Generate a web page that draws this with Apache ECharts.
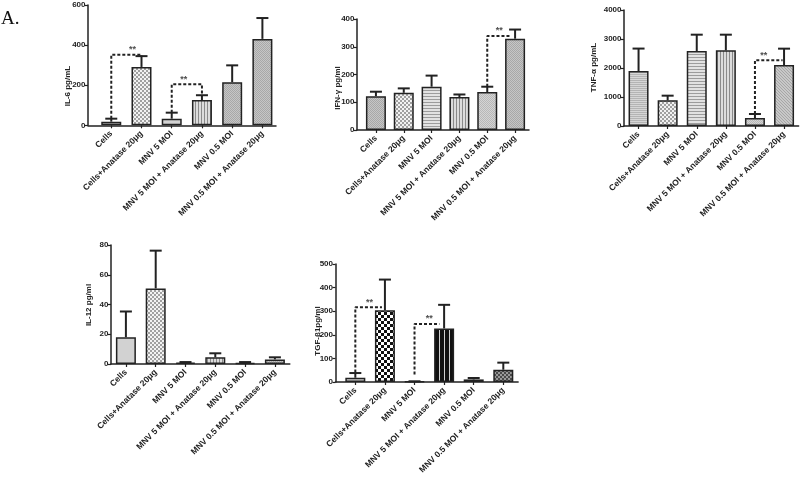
<!DOCTYPE html>
<html>
<head>
<meta charset="utf-8">
<script src="https://cdn.jsdelivr.net/npm/echarts@6/dist/echarts.min.js"></script>
<style>html,body{margin:0;padding:0;background:#fff}#c{width:800px;height:484px}</style>
</head>
<body>
<div id="c"></div>
<script>
// ---- data ----
const categories = ['Cells', 'Cells+Anatase 20μg', 'MNV 5 MOI', 'MNV 5 MOI + Anatase 20μg', 'MNV 0.5 MOI', 'MNV 0.5 MOI + Anatase 20μg'];

const il6Mean = [18, 291, 33, 126, 215, 431];
const il6Sem  = [15, 54, 30, 24, 84, 104];
const il6Ticks = [0, 200, 400, 600];

const ifnMean = [122, 134, 156, 119, 137, 329];
const ifnSem  = [16, 16, 40, 9, 19, 33];
const ifnTicks = [0, 100, 200, 300, 400];

const tnfMean = [1897, 885, 2586, 2609, 276, 2103];
const tnfSem  = [773, 161, 563, 540, 138, 564];
const tnfTicks = [0, 1000, 2000, 3000, 4000];

const il12Mean = [18, 50.8, 0.9, 4.5, 0.7, 3.1];
const il12Sem  = [17.3, 25.4, 0.4, 2.7, 0.6, 1.4];
const il12Ticks = [0, 20, 40, 60, 80];

const tgfMean = [18, 304, 2, 227, 11, 52];
const tgfSem  = [20, 130, 1, 100, 6, 30];
const tgfTicks = [0, 100, 200, 300, 400, 500];

// significance brackets: [fromIndex, fromValue, height, toIndex, toValue, starAt]
const il6Sig = [[0, 33, 352, 1, 345, 0.7], [2, 63, 205, 3, 150, 2.4]];
const ifnSig = [[4, 156, 339, 4.85, 339, 4.43]];
const tnfSig = [[4, 414, 2264, 4.95, 2264, 4.3]];
const il12Sig = [];
const tgfSig = [[0, 40, 317, 0.9, 317, 0.48], [2, 32, 246, 2.84, 246, 2.5]];

// ---- patterns ----
function pat(w, h, draw) {
  const c = document.createElement('canvas');
  c.width = w; c.height = h;
  const g = c.getContext('2d');
  draw(g, w, h);
  return { image: c, repeat: 'repeat' };
}
const P = {
  fine: pat(2, 2, g => { g.fillStyle = '#d4d4d4'; g.fillRect(0,0,2,2); g.fillStyle = '#b8b8b8'; g.fillRect(0,0,1,1); g.fillRect(1,1,1,1); }),
  fineDark: pat(2, 2, g => { g.fillStyle = '#c6c6c6'; g.fillRect(0,0,2,2); g.fillStyle = '#a8a8a8'; g.fillRect(0,0,1,1); g.fillRect(1,1,1,1); }),
  checker: pat(4, 4, g => { g.fillStyle = '#f2f2f2'; g.fillRect(0,0,4,4); g.fillStyle = '#a0a0a0'; g.fillRect(0,0,2,2); g.fillRect(2,2,2,2); }),
  hline: pat(1, 3, g => { g.fillStyle = '#e2e2e2'; g.fillRect(0,0,1,3); g.fillStyle = '#9c9c9c'; g.fillRect(0,0,1,1); }),
  hfine: pat(1, 2, g => { g.fillStyle = '#d6d6d6'; g.fillRect(0,0,1,2); g.fillStyle = '#b4b4b4'; g.fillRect(0,0,1,1); }),
  vline: pat(3, 1, g => { g.fillStyle = '#dcdcdc'; g.fillRect(0,0,3,1); g.fillStyle = '#8a8a8a'; g.fillRect(0,0,1,1); }),
  diag: pat(3, 3, g => { g.fillStyle = '#c8c8c8'; g.fillRect(0,0,3,3); g.fillStyle = '#a6a6a6'; g.fillRect(0,0,1,1); g.fillRect(1,1,1,1); g.fillRect(2,2,1,1); }),
  plain: '#d2d2d2',
  bigChecker: pat(6, 6, g => { g.fillStyle = '#ffffff'; g.fillRect(0,0,6,6); g.fillStyle = '#111111'; g.fillRect(0,0,3,3); g.fillRect(3,3,3,3); }),
  blackV: pat(5, 1, g => { g.fillStyle = '#111111'; g.fillRect(0,0,5,1); g.fillStyle = '#d0d0d0'; g.fillRect(4,0,1,1); }),
  darkChecker: pat(4, 4, g => { g.fillStyle = '#9a9a9a'; g.fillRect(0,0,4,4); g.fillStyle = '#4a4a4a'; g.fillRect(0,0,2,2); g.fillRect(2,2,2,2); }),
  midGray: '#8c8c8c'
};

const panels = [
  { name: 'IL-6 pg/mL', mean: il6Mean, sem: il6Sem, ticks: il6Ticks, sig: il6Sig,
    grid: { left: 88, top: 5, width: 188, height: 120.3 }, xmin: -0.77, xmax: 5.45, title: [68, 86],
    fills: [P.plain, P.checker, P.plain, P.vline, P.fineDark, P.fineDark] },
  { name: 'IFN-γ pg/ml', mean: ifnMean, sem: ifnSem, ticks: ifnTicks, sig: ifnSig,
    grid: { left: 357, top: 19, width: 172, height: 111 }, xmin: -0.68, xmax: 5.5, title: [338, 88],
    fills: [P.fineDark, P.checker, P.hline, P.vline, P.fine, P.fineDark] },
  { name: 'TNF-α pg/mL', mean: tnfMean, sem: tnfSem, ticks: tnfTicks, sig: tnfSig,
    grid: { left: 624, top: 10, width: 174.6, height: 116 }, xmin: -0.5, xmax: 5.5, title: [594, 67.5],
    fills: [P.hfine, P.checker, P.hline, P.vline, P.fine, P.diag] },
  { name: 'IL-12 pg/ml', mean: il12Mean, sem: il12Sem, ticks: il12Ticks, sig: il12Sig,
    grid: { left: 111, top: 245, width: 178.8, height: 119 }, xmin: -0.5, xmax: 5.5, title: [88.5, 305],
    fills: [P.plain, P.checker, P.plain, P.vline, P.fine, P.fineDark] },
  { name: 'TGF-β1pg/ml', mean: tgfMean, sem: tgfSem, ticks: tgfTicks, sig: tgfSig,
    grid: { left: 335.5, top: 264, width: 182.6, height: 118 }, xmin: -0.67, xmax: 5.5, title: [317.5, 331],
    fills: [P.plain, P.bigChecker, P.plain, P.blackV, P.midGray, P.darkChecker] }
];

const INK = '#222';
const FONT = 'Liberation Sans, Arial, sans-serif';
const grids = [], xAxes = [], yAxes = [], series = [], graphics = [];
const idx = [0, 1, 2, 3, 4, 5];

panels.forEach((p, k) => {
  grids.push(Object.assign({ containLabel: false }, p.grid));
  xAxes.push({
    type: 'value', gridIndex: k, min: p.xmin, max: p.xmax,
    axisLine: { show: true, onZero: false, lineStyle: { color: INK, width: 1.5 } },
    axisTick: { show: true, length: 3, lineStyle: { color: INK, width: 1.2 }, customValues: idx },
    axisLabel: { customValues: idx, rotate: 45, margin: 7, color: INK, fontSize: 8.5, fontWeight: 'bold',
      fontFamily: FONT, formatter: v => categories[Math.round(v)] || '' },
    splitLine: { show: false }
  });
  const ymax = p.ticks[p.ticks.length - 1];
  yAxes.push({
    type: 'value', gridIndex: k, min: 0, max: ymax, interval: p.ticks[1] - p.ticks[0],
    axisLine: { show: true, onZero: false, lineStyle: { color: INK, width: 1.5 } },
    axisTick: { show: true, length: 3, lineStyle: { color: INK, width: 1.2 } },
    axisLabel: { margin: 2.5, color: INK, fontSize: 8, fontWeight: 'bold', fontFamily: FONT,
      formatter: v => String(v) },
    splitLine: { show: false }
  });
  graphics.push({
    type: 'text', x: p.title[0], y: p.title[1], rotation: Math.PI / 2, silent: true,
    style: { text: p.name, fill: INK, font: 'bold 8px ' + FONT, align: 'center', verticalAlign: 'middle' }
  });
  series.push({
    type: 'bar', xAxisIndex: k, yAxisIndex: k, barWidth: 20,
    data: p.mean.map((v, i) => ({ value: [i, v], itemStyle: { color: p.fills[i] } })),
    itemStyle: { borderColor: INK, borderWidth: 1.5 },
    z: 2
  });
  series.push({
    type: 'custom', xAxisIndex: k, yAxisIndex: k, z: 3,
    data: p.mean.map((v, i) => [i, v, p.sem[i]]),
    renderItem: (params, api) => {
      const x = api.value(0), m = api.value(1), e = api.value(2);
      const a = api.coord([x, m]), b = api.coord([x, m + e]);
      const st = { stroke: INK, lineWidth: 2 };
      return { type: 'group', children: [
        { type: 'line', shape: { x1: a[0], y1: a[1], x2: b[0], y2: b[1] }, style: st },
        { type: 'line', shape: { x1: b[0] - 6, y1: b[1], x2: b[0] + 6, y2: b[1] }, style: st }
      ] };
    }
  });
  p.sig.forEach(s => {
    const [f, fy, h, t, ty, sx] = s;
    series.push({
      type: 'line', xAxisIndex: k, yAxisIndex: k, z: 4, symbol: 'none', silent: true,
      data: [[f, fy], [f, h], [t, h], [t, ty]],
      lineStyle: { color: INK, width: 2, type: [3, 2] }
    });
    series.push({
      type: 'scatter', xAxisIndex: k, yAxisIndex: k, z: 5, symbolSize: 1, silent: true,
      itemStyle: { color: 'rgba(0,0,0,0)' },
      data: [[sx, h]],
      label: { show: true, position: 'top', distance: 0, formatter: '**', color: INK, fontSize: 9, fontWeight: 'bold',
        fontFamily: FONT }
    });
  });
});

graphics.push({ type: 'text', left: 1, top: 10, style: { text: 'A.', fontSize: 19, fontFamily: 'Liberation Serif, Times New Roman, serif', fill: '#111' } });

const chart = echarts.init(document.getElementById('c'), null, { renderer: 'canvas' });
chart.setOption({
  animation: false,
  backgroundColor: '#fff',
  grid: grids, xAxis: xAxes, yAxis: yAxes, series: series,
  graphic: graphics
});
</script>
</body>
</html>
